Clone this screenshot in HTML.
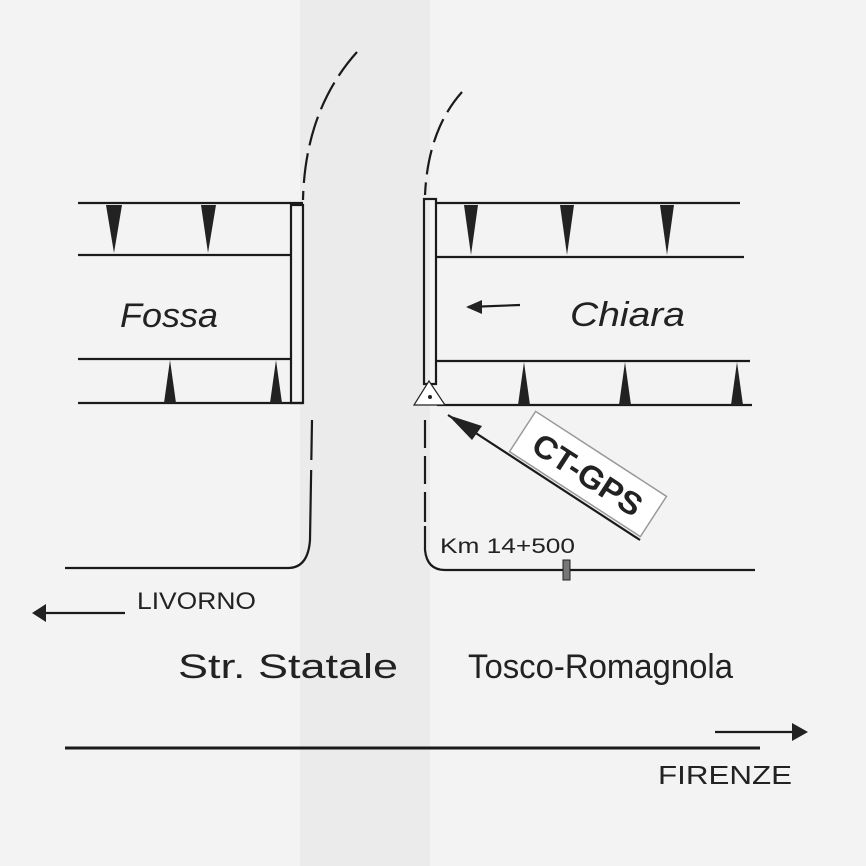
<!DOCTYPE html>
<html><head><meta charset="utf-8"><style>
html,body{margin:0;padding:0;background:#f3f3f3;}
svg{display:block;}
text{font-family:"Liberation Sans",sans-serif;fill:#222;}
</style></head><body>
<svg width="866" height="866" viewBox="0 0 866 866" xmlns="http://www.w3.org/2000/svg">
<rect width="866" height="866" fill="#f3f3f3"/>
<rect x="300" y="0" width="130" height="866" fill="#ebebeb"/>
<g stroke="#1a1a1a" fill="none" stroke-width="2.2">
<line x1="78" y1="203" x2="303" y2="203"/>
<line x1="78" y1="255" x2="290" y2="255"/>
<line x1="78" y1="359" x2="290" y2="359"/>
<line x1="78" y1="403" x2="303" y2="403"/>
<rect x="291" y="205" width="12" height="198"/>
<line x1="437" y1="203" x2="740" y2="203"/>
<line x1="437" y1="257" x2="744" y2="257"/>
<line x1="437" y1="361" x2="750" y2="361"/>
<line x1="437" y1="405" x2="752" y2="405"/>
<rect x="424" y="199" width="12" height="185"/>
<path d="M357 52 Q305 110 303 200" stroke-dasharray="30 8"/>
<path d="M462 92 Q428 130 425 195" stroke-dasharray="25 8"/>
<path d="M312 420 L310 540 Q308 568 288 568 L65 568" stroke-dasharray="40 10 400 0"/>
<path d="M425 420 L425 550 Q427 570 445 570 L755 570" stroke-dasharray="28 8 28 8 30 4 400 0"/>
<line x1="65" y1="748" x2="760" y2="748" stroke-width="3"/>
<line x1="35" y1="613" x2="125" y2="613"/>
<line x1="715" y1="732" x2="800" y2="732"/>
<line x1="468" y1="307" x2="520" y2="305"/>
<line x1="448" y1="415" x2="640" y2="540"/>
</g>
<g fill="#222">
<polygon points="106,205 122,205 114,253"/>
<polygon points="201,205 216,205 208,253"/>
<polygon points="164,403 176,403 170,360"/>
<polygon points="270,403 282,403 276,360"/>
<polygon points="464,205 478,205 471,255"/>
<polygon points="560,205 574,205 567,255"/>
<polygon points="660,205 674,205 667,255"/>
<polygon points="518,405 530,405 524,362"/>
<polygon points="619,405 631,405 625,362"/>
<polygon points="731,405 743,405 737,362"/>
<polygon points="32,613 46,604 46,622"/>
<polygon points="808,732 792,723 792,741"/>
<polygon points="466,307 482,300 482,314"/>
<polygon points="448,415 482,426 472,440"/>
<rect x="563" y="560" width="7" height="20" stroke="#222" fill="#777"/>
</g>
<polygon points="429,381 414,405 445,405" fill="#fff" stroke="#222" stroke-width="1.2"/>
<circle cx="430" cy="397" r="2" fill="#222"/>
<g transform="translate(588,474) rotate(33)">
<rect x="-78" y="-24" width="156" height="48" fill="#fff" stroke="#999" stroke-width="1.5"/>
<text x="0" y="12" text-anchor="middle" font-size="32" font-weight="bold" textLength="124" lengthAdjust="spacingAndGlyphs">CT-GPS</text>
</g>
<text x="120" y="327" font-size="34" font-style="italic" textLength="98" lengthAdjust="spacingAndGlyphs">Fossa</text>
<text x="570" y="326" font-size="34" font-style="italic" textLength="115" lengthAdjust="spacingAndGlyphs">Chiara</text>
<text x="440" y="553" font-size="21" textLength="135" lengthAdjust="spacingAndGlyphs">Km 14+500</text>
<text x="137" y="609" font-size="24" textLength="119" lengthAdjust="spacingAndGlyphs">LIVORNO</text>
<text x="178" y="678" font-size="34" textLength="220" lengthAdjust="spacingAndGlyphs">Str. Statale</text>
<text x="468" y="678" font-size="34" textLength="265" lengthAdjust="spacingAndGlyphs">Tosco-Romagnola</text>
<text x="658" y="784" font-size="26" textLength="134" lengthAdjust="spacingAndGlyphs">FIRENZE</text>
</svg>
</body></html>
